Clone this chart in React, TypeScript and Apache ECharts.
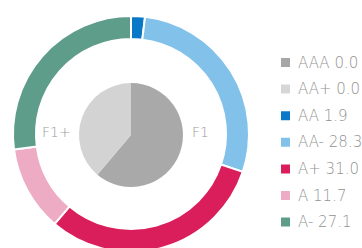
import React, { useEffect, useRef } from "react";
import * as echarts from "echarts";

const ratingNames = ["AAA", "AA+", "AA", "AA-", "A+", "A", "A-"];
const ratingValues = [0.0, 0.0, 1.9, 28.3, 31.0, 11.7, 27.1];
const ratingColors = ["#a6a6a6", "#d6d6d6", "#0a78c6", "#82c1ea", "#da1d5b", "#eeabc4", "#5f9d8b"];

const groupNames = ["F1", "F1+"];
const groupValues = [61.2, 38.8];
const groupColors = ["#a9a9a9", "#d3d3d3"];

export default function App() {
  const ref = useRef<HTMLDivElement>(null);
  useEffect(() => {
    if (!ref.current) return;
    const chart = echarts.init(ref.current, undefined, { renderer: "svg" });
    const valueMap: Record<string, number> = {};
    ratingNames.forEach((n, i) => (valueMap[n] = ratingValues[i]));
    const font = "'DejaVu Sans', sans-serif";
    chart.setOption({
      animation: false,
      backgroundColor: "#ffffff",
      legend: {
        orient: "vertical",
        left: 279,
        top: 55,
        padding: 0,
        itemWidth: 11,
        itemHeight: 11,
        itemGap: 11.6,
        icon: "rect",
        data: ratingNames,
        formatter: (name: string) => `${name} ${valueMap[name].toFixed(1)}`,
        textStyle: {
          color: "#939393",
          fontSize: 15,
          lineHeight: 12,
          fontFamily: font,
          fontWeight: 200,
          padding: [0, 0, 0, 2],
        },
      },
      graphic: [
        {
          type: "text",
          left: 42,
          top: 125,
          style: { text: "F1+", fill: "#9a9a9a", fontSize: 14, fontFamily: font, fontWeight: 200 },
        },
        {
          type: "text",
          left: 192,
          top: 125,
          style: { text: "F1", fill: "#9a9a9a", fontSize: 14, fontFamily: font, fontWeight: 200 },
        },
      ],
      series: [
        {
          type: "pie",
          center: [131, 134],
          radius: [95, 118],
          startAngle: 90,
          clockwise: true,
          label: { show: false },
          labelLine: { show: false },
          emphasis: { disabled: true },
          itemStyle: { borderColor: "#ffffff", borderWidth: 2 },
          data: ratingNames.map((n, i) => ({ name: n, value: ratingValues[i], itemStyle: { color: ratingColors[i] } })),
        },
        {
          type: "pie",
          center: [131, 135],
          radius: [0, 52],
          startAngle: 90,
          clockwise: true,
          label: { show: false },
          labelLine: { show: false },
          emphasis: { disabled: true },
          itemStyle: { borderWidth: 0 },
          data: groupNames.map((n, i) => ({ name: n, value: groupValues[i], itemStyle: { color: groupColors[i] } })),
        },
      ],
    });
    return () => chart.dispose();
  }, []);
  return (
    <div
      ref={ref}
      style={{ position: "fixed", left: 0, top: 0, width: 362, height: 248, background: "#fff" }}
    />
  );
}
